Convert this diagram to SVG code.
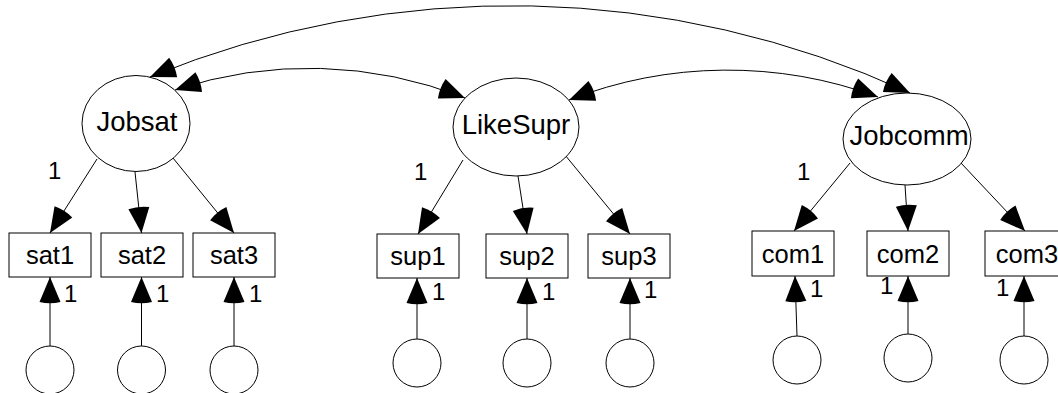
<svg xmlns="http://www.w3.org/2000/svg" width="1058" height="393" viewBox="0 0 1058 393">
  <style>
    .shape { fill: #ffffff; stroke: #000000; stroke-width: 1; }
    .edge { fill: none; stroke: #000000; stroke-width: 1; }
    .lat { font-family: "Liberation Sans", Arial, sans-serif; font-size: 27.5px; fill: #000000; text-anchor: middle; }
    .obs { font-family: "Liberation Sans", Arial, sans-serif; font-size: 25.5px; fill: #000000; text-anchor: middle; }
    .wt { font-family: "Liberation Sans", Arial, sans-serif; font-size: 24px; fill: #000000; }
  </style>
  <defs>
    <marker id="head" markerUnits="userSpaceOnUse" markerWidth="32" markerHeight="26" viewBox="-29 -13 32 26" refX="0" refY="0" orient="auto-start-reverse">
      <path d="M0,0 L-25,-10.5 Q-27.5,0 -25,10.5 Z" fill="#000000"/>
    </marker>
  </defs>

  <!-- connectors -->
  <g id="connectors">
    <!-- covariances between latent factors -->
    <path class="edge" d="M150,77 A953,953 0 0 1 910,93" marker-start="url(#head)" marker-end="url(#head)"/>
    <path class="edge" d="M175,90 A424,424 0 0 1 465,98" marker-start="url(#head)" marker-end="url(#head)"/>
    <path class="edge" d="M569,100 A435,435 0 0 1 878,97" marker-start="url(#head)" marker-end="url(#head)"/>

    <!-- loadings -->
    <line class="edge" x1="97" y1="159" x2="50" y2="233" marker-end="url(#head)"/>
    <line class="edge" x1="135" y1="172" x2="141.5" y2="233" marker-end="url(#head)"/>
    <line class="edge" x1="173" y1="158" x2="234" y2="233" marker-end="url(#head)"/>

    <line class="edge" x1="463" y1="160" x2="418" y2="234" marker-end="url(#head)"/>
    <line class="edge" x1="518" y1="176" x2="527" y2="234" marker-end="url(#head)"/>
    <line class="edge" x1="565" y1="155" x2="630" y2="234" marker-end="url(#head)"/>

    <line class="edge" x1="850" y1="163" x2="794" y2="231" marker-end="url(#head)"/>
    <line class="edge" x1="905" y1="185" x2="908" y2="231" marker-end="url(#head)"/>
    <line class="edge" x1="961" y1="163" x2="1025" y2="231" marker-end="url(#head)"/>

    <!-- error terms -->
    <line class="edge" x1="50" y1="346" x2="50" y2="277" marker-end="url(#head)"/>
    <line class="edge" x1="141.5" y1="346" x2="141.5" y2="277" marker-end="url(#head)"/>
    <line class="edge" x1="234" y1="346" x2="234" y2="277" marker-end="url(#head)"/>

    <line class="edge" x1="417" y1="339" x2="417" y2="278" marker-end="url(#head)"/>
    <line class="edge" x1="527" y1="339" x2="527" y2="278" marker-end="url(#head)"/>
    <line class="edge" x1="630" y1="339" x2="630" y2="278" marker-end="url(#head)"/>

    <line class="edge" x1="797" y1="336" x2="795" y2="276" marker-end="url(#head)"/>
    <line class="edge" x1="908" y1="334" x2="908" y2="276" marker-end="url(#head)"/>
    <line class="edge" x1="1024" y1="336" x2="1024" y2="276" marker-end="url(#head)"/>

    <!-- fixed weights -->
    <text class="wt" x="48" y="179">1</text>
    <text class="wt" x="414" y="180">1</text>
    <text class="wt" x="797" y="180">1</text>

    <text class="wt" x="64" y="302">1</text>
    <text class="wt" x="156" y="302">1</text>
    <text class="wt" x="249" y="302">1</text>
    <text class="wt" x="432" y="300">1</text>
    <text class="wt" x="542" y="300">1</text>
    <text class="wt" x="644" y="298">1</text>
    <text class="wt" x="810" y="297">1</text>
    <text class="wt" x="880" y="294">1</text>
    <text class="wt" x="996" y="296">1</text>
  </g>

  <!-- latent factors -->
  <g id="Jobsat">
    <ellipse class="shape" cx="136" cy="123.5" rx="54" ry="48"/>
    <text class="lat" x="137" y="131">Jobsat</text>
  </g>
  <g id="LikeSupr">
    <ellipse class="shape" cx="516" cy="127" rx="63" ry="49"/>
    <text class="lat" x="516" y="134">LikeSupr</text>
  </g>
  <g id="Jobcomm">
    <ellipse class="shape" cx="907" cy="139" rx="64" ry="46"/>
    <text class="lat" x="909" y="145">Jobcomm</text>
  </g>

  <!-- observed indicators -->
  <g id="sat1"><rect class="shape" x="9" y="233" width="82" height="44"/><text class="obs" x="50" y="264">sat1</text></g>
  <g id="sat2"><rect class="shape" x="101" y="233" width="82" height="44"/><text class="obs" x="142" y="264">sat2</text></g>
  <g id="sat3"><rect class="shape" x="193" y="233" width="82" height="44"/><text class="obs" x="234" y="264">sat3</text></g>

  <g id="sup1"><rect class="shape" x="377" y="234" width="82" height="44"/><text class="obs" x="418" y="265">sup1</text></g>
  <g id="sup2"><rect class="shape" x="486" y="234" width="82" height="44"/><text class="obs" x="527" y="265">sup2</text></g>
  <g id="sup3"><rect class="shape" x="588" y="234" width="82" height="44"/><text class="obs" x="629" y="265">sup3</text></g>

  <g id="com1"><rect class="shape" x="752" y="231" width="82" height="45"/><text class="obs" x="793" y="262.5">com1</text></g>
  <g id="com2"><rect class="shape" x="867" y="231" width="82" height="45"/><text class="obs" x="908" y="262.5">com2</text></g>
  <g id="com3"><rect class="shape" x="985" y="231" width="82" height="45"/><text class="obs" x="1027" y="262.5">com3</text></g>

  <!-- error terms -->
  <g id="e1"><circle class="shape" cx="50" cy="370" r="24"/></g>
  <g id="e2"><circle class="shape" cx="141.5" cy="370" r="24"/></g>
  <g id="e3"><circle class="shape" cx="234" cy="370" r="24"/></g>
  <g id="e4"><circle class="shape" cx="417" cy="363" r="24"/></g>
  <g id="e5"><circle class="shape" cx="527" cy="363" r="24"/></g>
  <g id="e6"><circle class="shape" cx="630" cy="363" r="24"/></g>
  <g id="e7"><circle class="shape" cx="797" cy="360" r="24"/></g>
  <g id="e8"><circle class="shape" cx="908" cy="358" r="24"/></g>
  <g id="e9"><circle class="shape" cx="1024" cy="360" r="24"/></g>
</svg>
